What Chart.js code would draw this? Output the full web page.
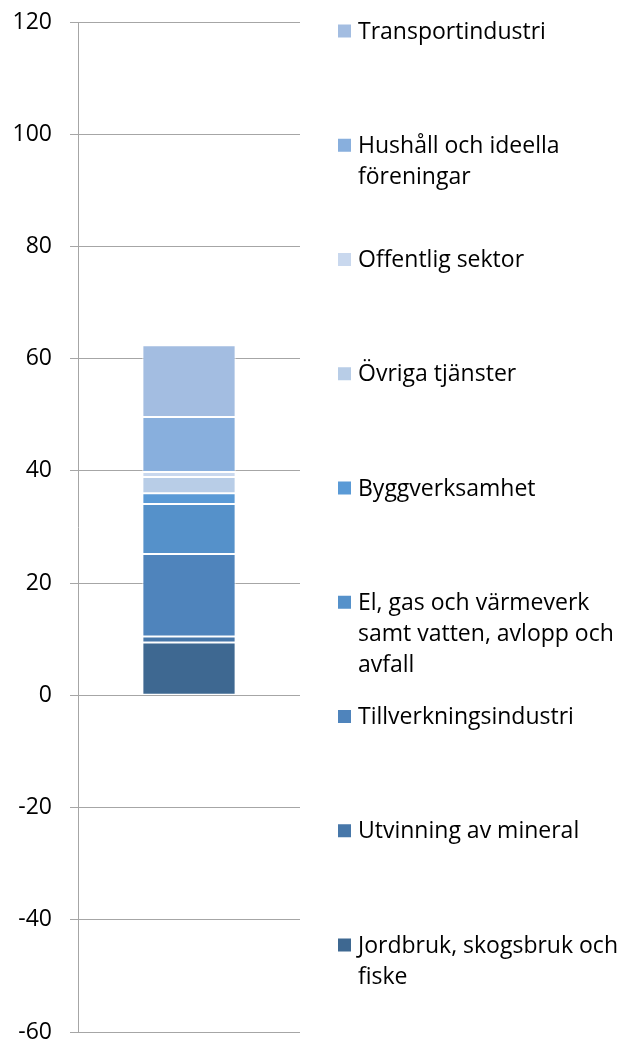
<!DOCTYPE html>
<html lang="sv">
<head>
<meta charset="utf-8">
<title>Stapeldiagram per bransch</title>
<script src="https://cdn.jsdelivr.net/npm/chart.js@4/dist/chart.umd.min.js"></script>
<style>
  html, body { margin: 0; padding: 0; background: #ffffff; }
  #graf { display: block; }
</style>
</head>
<body>
<canvas id="graf" width="626" height="1041"></canvas>
<script>
// branscher nerifrån och upp i stapeln
const branscher = [
    "Jordbruk, skogsbruk och\nfiske",
    "Utvinning av mineral",
    "Tillverkningsindustri",
    "El, gas och värmeverk\nsamt vatten, avlopp och\navfall",
    "Byggverksamhet",
    "Övriga tjänster",
    "Offentlig sektor",
    "Hushåll och ideella\nföreningar",
    "Transportindustri"
];
const varden = [9.4, 1.1, 14.7, 8.9, 1.9, 2.9, 0.9, 9.8, 12.8];
const farger = [
    "#3E6891", "#4777A9", "#4F84BC", "#5591CA", "#5A9AD6",
    "#B8CDE7", "#C9D8EE", "#88AFDD", "#A3BDE1"
];
const kategorier = [""];
const yTicks = [-60, -40, -20, 0, 20, 40, 60, 80, 100, 120];

const teckensnitt = "'Open Sans', sans-serif";
const textStorlek = 23;

// egen förklaring till höger, samma upplägg som i Excel
const forklaring = {
    id: "forklaring",
    afterDraw(chart) {
        const ctx = chart.ctx;
        const sets = chart.data.datasets;
        const forsta = 31;
        const steg = 114.25;
        const radhojd = 31;
        ctx.save();
        ctx.font = textStorlek + "px " + teckensnitt;
        ctx.textBaseline = "middle";
        ctx.textAlign = "left";
        for (let i = 0; i < sets.length; i++) {
            const ds = sets[sets.length - 1 - i];
            const y = forsta + i * steg;
            ctx.fillStyle = ds.backgroundColor;
            ctx.fillRect(338, y - 6.5, 13, 13);
            ctx.fillStyle = "#000000";
            ds.label.split("\n").forEach(function (rad, j) {
                ctx.fillText(rad, 358, y + j * radhojd + 1);
            });
        }
        ctx.restore();
    }
};

const datasets = varden.map(function (v, i) {
    return {
        label: branscher[i],
        data: [v],
        backgroundColor: farger[i],
        borderColor: "#ffffff",
        borderWidth: 1,
        borderSkipped: false,
        barPercentage: 0.42,
        categoryPercentage: 1
    };
});

new Chart(document.getElementById("graf"), {
    type: "bar",
    data: { labels: kategorier, datasets: datasets },
    options: {
        responsive: false,
        animation: false,
        layout: { padding: { top: 22, right: 326, bottom: 9, left: 0 } },
        plugins: {
            legend: { display: false },
            tooltip: { enabled: false }
        },
        scales: {
            x: { stacked: true, display: false },
            y: {
                stacked: true,
                min: -60,
                max: 120,
                afterBuildTicks(scale) {
                    scale.ticks = yTicks.map(function (v) { return { value: v }; });
                },
                afterFit(scale) {
                    scale.width = 78;
                    scale.paddingTop = 0;
                    scale.paddingBottom = 0;
                },
                grid: {
                    color: "#A6A6A6",
                    lineWidth: 1,
                    drawTicks: true,
                    tickLength: 8,
                    tickColor: "#A6A6A6"
                },
                border: { display: true, color: "#A6A6A6", width: 1 },
                ticks: {
                    padding: 18,
                    color: "#000000",
                    font: { family: teckensnitt, size: textStorlek }
                }
            }
        }
    },
    plugins: [forklaring]
});
</script>
</body>
</html>
